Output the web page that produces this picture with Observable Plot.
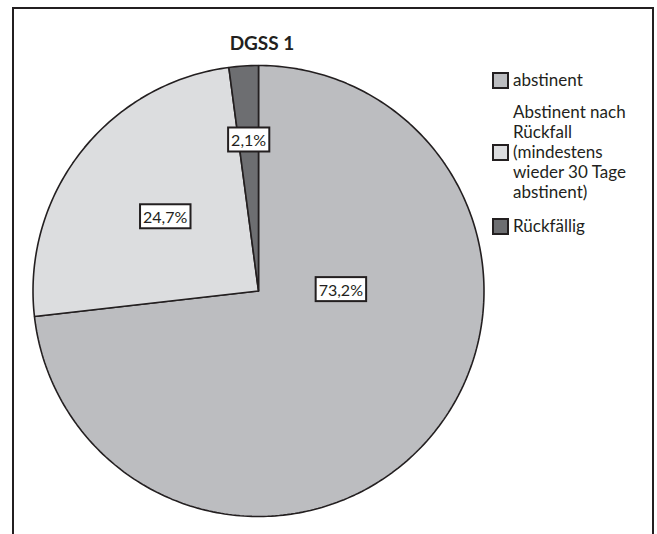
<!DOCTYPE html>
<html>
<head>
<meta charset="utf-8">
<script src="https://cdn.jsdelivr.net/npm/d3@7"></script>
<script src="https://cdn.jsdelivr.net/npm/@observablehq/plot@0.6"></script>
<style>
  html, body { margin: 0; padding: 0; background: #fff; }
  body { width: 657px; height: 534px; overflow: hidden; position: relative; font-family: Lato, "Open Sans", sans-serif; color: #231f20; }
  #frame { position: absolute; left: 12px; top: 7px; width: 638px; height: 600px; border: 2px solid #231f20; box-sizing: content-box; }
  #chart { position: absolute; left: 0; top: 0; }
  #title { position: absolute; left: 162px; width: 200px; top: 31px; text-align: center; font-weight: bold; font-size: 19px; line-height: 24px; }
  #legend { position: absolute; left: 492px; top: 70px; font-size: 17px; line-height: 20px; }
  .entry { display: flex; align-items: center; gap: 4px; }
  .swatch { width: 13px; height: 13px; border: 2px solid #231f20; flex: none; }
</style>
</head>
<body>
<div id="frame"></div>
<div id="chart"></div>
<div id="title">DGSS 1</div>
<div id="legend"></div>
<script>
// Shares of the three outcome groups (percent)
const categories = ["abstinent", "Abstinent nach Rückfall (mindestens wieder 30 Tage abstinent)", "Rückfällig"];
const legendLines = [["abstinent"], ["Abstinent nach", "Rückfall", "(mindestens", "wieder 30 Tage", "abstinent)"], ["Rückfällig"]];
const values = [73.2, 24.7, 2.1];
const valueLabels = ["73,2%", "24,7%", "2,1%"];
const colors = ["#bcbdc0", "#dcdddf", "#6d6e71"];

// Label placement: radial distance (fraction of radius) and optional angle override (fraction of a turn)
const labelRadius = [0.365, 0.525, 0.665];
const labelTurn = [0.25, null, null];

const W = 657, H = 534;
const cx = 258, cy = 290.5, R = 225.5;

// Build slice outlines in unit-circle coordinates (y up, clockwise from 12 o'clock)
const total = d3.sum(values);
const slicePts = [];
const labels = [];
let acc = 0;
values.forEach((v, i) => {
  const a0 = acc / total * 2 * Math.PI;
  const a1 = (acc + v) / total * 2 * Math.PI;
  slicePts.push({cat: categories[i], x: 0, y: 0});
  const n = Math.max(4, Math.ceil((a1 - a0) / (Math.PI / 180)));
  for (let k = 0; k <= n; k++) {
    const a = a0 + (a1 - a0) * k / n;
    slicePts.push({cat: categories[i], x: Math.sin(a), y: Math.cos(a)});
  }
  slicePts.push({cat: categories[i], x: 0, y: 0});
  const am = labelTurn[i] != null ? labelTurn[i] * 2 * Math.PI : (a0 + a1) / 2;
  labels.push({text: valueLabels[i], x: labelRadius[i] * Math.sin(am), y: labelRadius[i] * Math.cos(am)});
  acc += v;
});

const chart = Plot.plot({
  width: W,
  height: H,
  margin: 0,
  x: {domain: [-cx / R, (W - cx) / R], axis: null},
  y: {domain: [-(H - cy) / R, cy / R], axis: null},
  color: {domain: categories, range: colors},
  marks: [
    Plot.line(slicePts, {x: "x", y: "y", z: "cat", fill: "cat", stroke: "#231f20", strokeWidth: 1.6, strokeLinejoin: "miter", curve: "linear"}),
    Plot.text(labels, {x: "x", y: "y", text: "text", fontSize: 16, fill: "#231f20", fontFamily: "Lato, sans-serif", className: "vlabel"})
  ]
});
chart.style.background = "transparent";
document.getElementById("chart").appendChild(chart);

// White boxed backgrounds behind the value labels
chart.querySelectorAll("g.vlabel text").forEach(t => {
  const b = t.getBBox();
  const r = document.createElementNS("http://www.w3.org/2000/svg", "rect");
  const tf = t.getAttribute("transform");
  if (tf) r.setAttribute("transform", tf);
  r.setAttribute("x", b.x - 3);
  r.setAttribute("y", b.y - 3);
  r.setAttribute("width", b.width + 6);
  r.setAttribute("height", b.height + 5);
  r.setAttribute("fill", "#fff");
  r.setAttribute("stroke", "#231f20");
  r.setAttribute("stroke-width", 2);
  t.parentNode.insertBefore(r, t);
});

// Legend
const legend = document.getElementById("legend");
const gaps = [12, 14, 0];
legendLines.forEach((lines, i) => {
  const e = document.createElement("div");
  e.className = "entry";
  e.style.marginBottom = gaps[i] + "px";
  const s = document.createElement("div");
  s.className = "swatch";
  s.style.background = colors[i];
  const t = document.createElement("div");
  t.innerHTML = lines.join("<br>");
  e.appendChild(s);
  e.appendChild(t);
  legend.appendChild(e);
});
</script>
</body>
</html>
